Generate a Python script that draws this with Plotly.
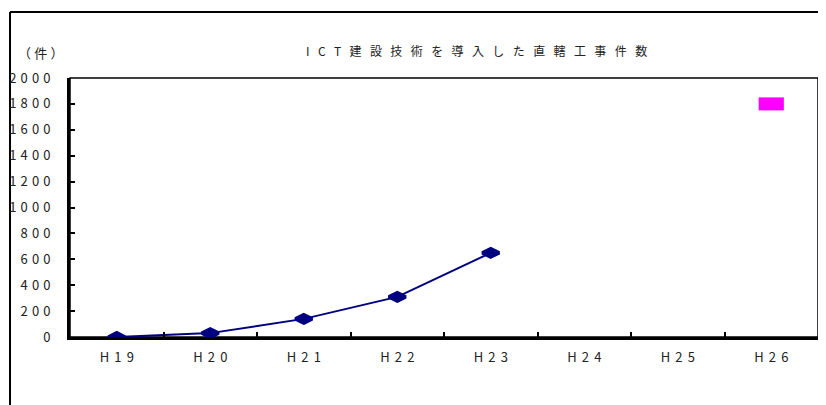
import plotly.graph_objects as go

years = ['H19', 'H20', 'H21', 'H22', 'H23', 'H24', 'H25', 'H26']
actual = [0, 30, 140, 310, 650, None, None, None]
target = [None, None, None, None, None, None, None, 1800]
y_ticks = [0, 200, 400, 600, 800, 1000, 1200, 1400, 1600, 1800, 2000]

FONT = 'Noto Sans CJK JP'
GAP = '\u2005\u200a'
XGAP = '\u2004\u200a'


def spaced(s, sep):
    return sep.join(list(str(s)))


fig = go.Figure()

fig.add_trace(go.Scatter(
    x=years, y=actual, mode='lines+markers',
    line=dict(color='#000080', width=2),
    marker=dict(symbol='diamond-wide', size=12, color='#000080',
                line=dict(color='#000080', width=3.5)),
    showlegend=False, hoverinfo='x+y'))

# magenta marker drawn as a thick horizontal stroke -> rectangle
fig.add_trace(go.Scatter(
    x=years, y=target, mode='markers',
    marker=dict(symbol='line-ew', size=18, color='#ff00ff',
                line=dict(color='#ff00ff', width=13)),
    showlegend=False, hoverinfo='x+y'))

# page body has an 8px margin, so the figure is 8px smaller
fig.update_layout(
    width=818, height=397,
    margin=dict(l=62, r=8, t=70, b=68),
    paper_bgcolor='white', plot_bgcolor='white',
    font=dict(family=FONT, size=13, color='#222222'),
    xaxis=dict(
        type='category', categoryorder='array', categoryarray=years,
        range=[-0.5, 7.5], tickson='boundaries', automargin=False,
        ticks='inside', ticklen=5, tickwidth=2, tickcolor='black',
        tickvals=years, ticktext=[spaced(y, XGAP) for y in years],
        ticklabelstandoff=6,
        showline=True, linecolor='black', linewidth=3,
        showgrid=False, zeroline=False,
    ),
    yaxis=dict(
        range=[0, 2000], automargin=False,
        tickvals=y_ticks, ticktext=[spaced(v, GAP) for v in y_ticks],
        ticks='inside', ticklen=5, tickwidth=2, tickcolor='black',
        ticklabelstandoff=14,
        showline=True, linecolor='black', linewidth=3,
        showgrid=False, zeroline=False,
    ),
)

# thin border on top and right of the plot area
fig.add_shape(type='rect', xref='paper', yref='paper', x0=0, x1=1, y0=0, y1=1,
              line=dict(color='black', width=1.5), layer='below')
# outer frame (left and top edges visible)
fig.add_shape(type='line', xref='paper', yref='paper', x0=-0.0802, x1=-0.0802,
              y0=-0.3, y1=1.2548, line=dict(color='black', width=2),
              layer='below')
fig.add_shape(type='line', xref='paper', yref='paper', x0=-0.0802, x1=1.05,
              y0=1.2548, y1=1.2548, line=dict(color='black', width=2),
              layer='below')

fig.add_annotation(text=spaced('ICT建設技術を導入した直轄工事件数', '\u2002\u2009'),
                   xref='paper', yref='paper', x=0.543, y=1.108,
                   yanchor='middle', showarrow=False, font=dict(size=12))
fig.add_annotation(text=spaced('（件）', '\u2005'), xref='paper', yref='paper',
                   x=-0.0722, xanchor='left', y=1.10, yanchor='middle',
                   showarrow=False, font=dict(size=13))

fig.write_html('out.html')
